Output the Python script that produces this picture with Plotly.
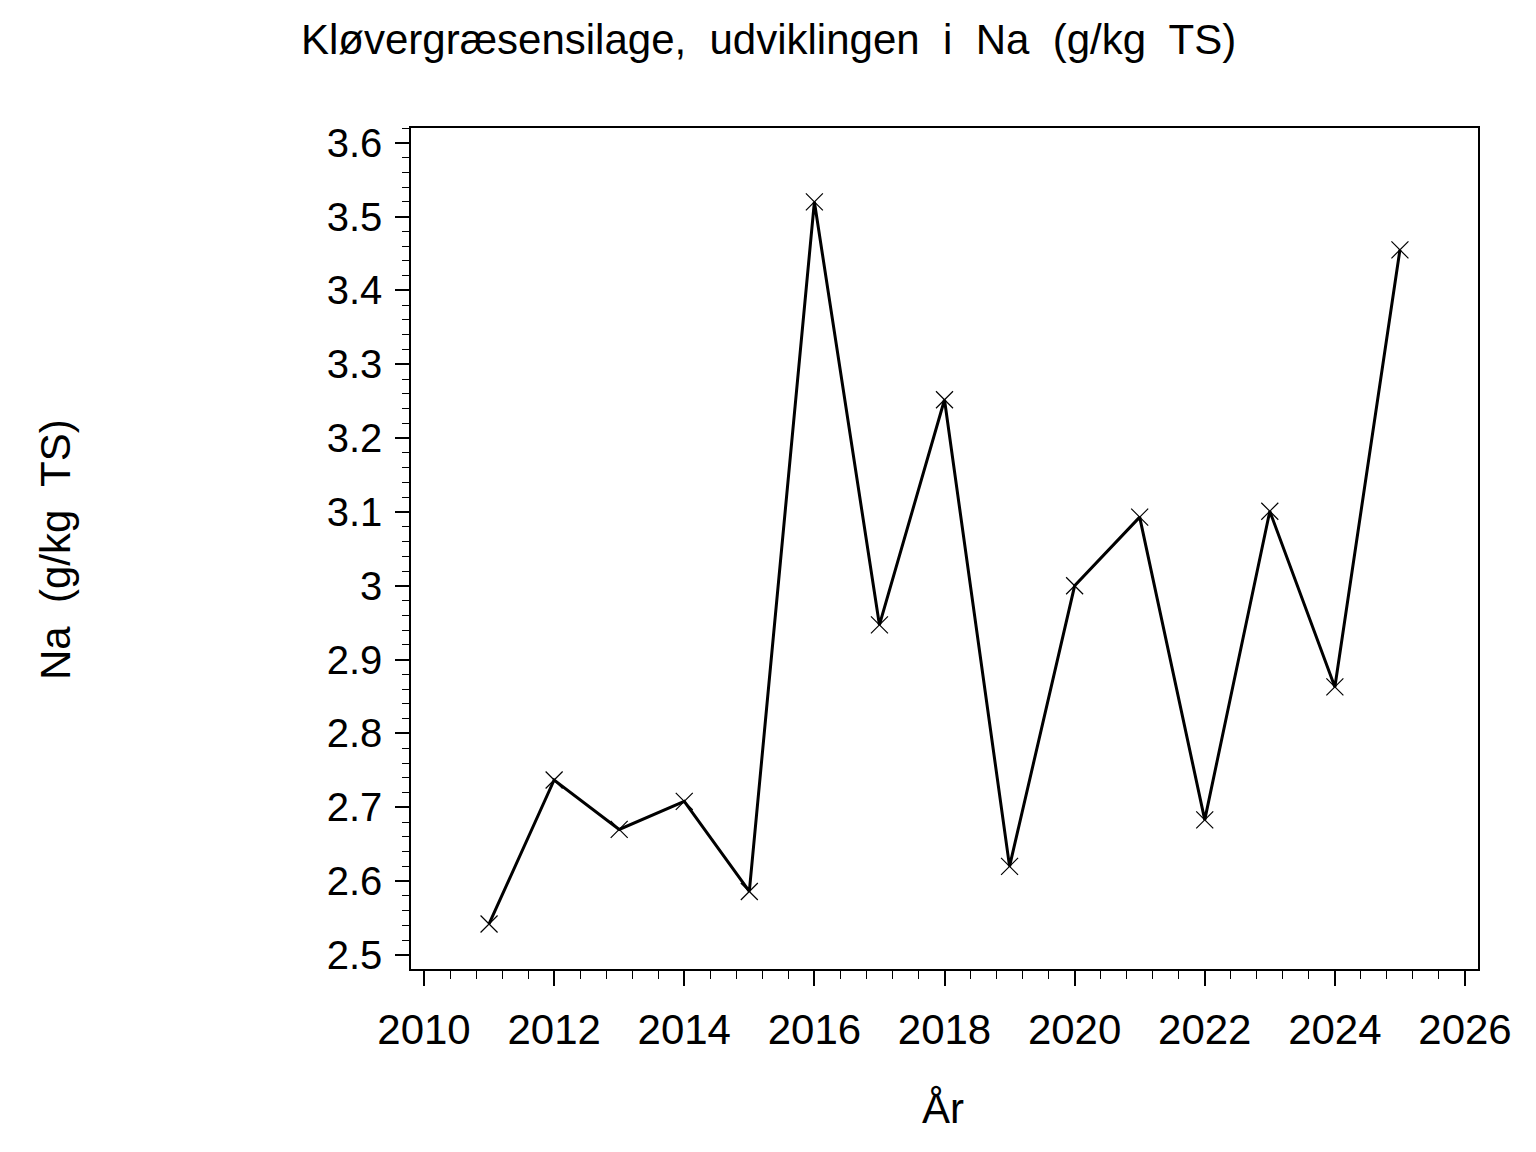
import plotly.graph_objects as go

years = [2011, 2012, 2013, 2014, 2015, 2016, 2017, 2018, 2019, 2020, 2021, 2022, 2023, 2024, 2025]
na_values = [2.542, 2.737, 2.670, 2.708, 2.586, 3.520, 2.947, 3.252, 2.620, 3.000, 3.093, 2.683, 3.101, 2.863, 3.455]

x_ticks = [2010, 2012, 2014, 2016, 2018, 2020, 2022, 2024, 2026]
y_ticks = [2.5, 2.6, 2.7, 2.8, 2.9, 3.0, 3.1, 3.2, 3.3, 3.4, 3.5, 3.6]
y_tick_text = ["2.5", "2.6", "2.7", "2.8", "2.9", "3", "3.1", "3.2", "3.3", "3.4", "3.5", "3.6"]

title_text = "Kløvergræsensilage,\u00a0 udviklingen\u00a0 i\u00a0 Na\u00a0 (g/kg\u00a0 TS)"
x_title = "År"
y_title = "Na\u00a0 (g/kg\u00a0 TS)"

FONT = "Liberation Sans, Arial, sans-serif"

# page body has an 8px margin; figure is placed at (8, 8)
OFF = 8
W, H = 1536 - 2 * OFF, 1152 - 2 * OFF
L, R, T, B = 411 - OFF, W - (1478 - OFF), 128 - OFF, H - (969 - OFF)
pw, ph = W - L - R, H - T - B


def paper_x(px):
    return (px - OFF - L) / pw


def paper_y(py):
    return 1 - (py - OFF - T) / ph


fig = go.Figure()
fig.add_trace(go.Scatter(
    x=years, y=na_values, mode="lines+markers",
    line=dict(color="black", width=3),
    marker=dict(symbol="x-thin", size=17, line=dict(color="black", width=1.2), color="black"),
    showlegend=False,
))

fig.update_layout(
    width=W, height=H,
    paper_bgcolor="white", plot_bgcolor="white",
    margin=dict(l=L, r=R, t=T, b=B),
    font=dict(family=FONT, color="black", size=42),
    annotations=[
        dict(text=title_text, x=paper_x(768), y=paper_y(40), xref="paper", yref="paper",
             xanchor="center", yanchor="middle", showarrow=False,
             font=dict(size=42, family=FONT, color="black")),
        dict(text=x_title, x=paper_x(943), y=paper_y(1108), xref="paper", yref="paper",
             xanchor="center", yanchor="middle", showarrow=False,
             font=dict(size=42, family=FONT, color="black")),
        dict(text=y_title, x=paper_x(55), y=paper_y(550), xref="paper", yref="paper",
             xanchor="center", yanchor="middle", showarrow=False, textangle=-90,
             font=dict(size=42, family=FONT, color="black")),
    ],
)

fig.update_xaxes(
    range=[2009.80, 2026.20], tickvals=x_ticks, ticktext=[str(v) for v in x_ticks],
    ticks="outside", ticklen=15, tickwidth=1.5, tickcolor="black",
    showline=True, linecolor="black", linewidth=1.5, mirror=True,
    showgrid=False, zeroline=False,
    tickfont=dict(size=42, family=FONT, color="black"),
    ticklabelstandoff=8,
    minor=dict(dtick=0.4, tick0=2010, ticks="outside", ticklen=8, tickwidth=1, tickcolor="black", showgrid=False),
)
fig.update_yaxes(
    range=[2.481, 3.620], tickvals=y_ticks, ticktext=y_tick_text,
    ticks="outside", ticklen=14, tickwidth=1.5, tickcolor="black",
    showline=True, linecolor="black", linewidth=1.5, mirror=True,
    showgrid=False, zeroline=False,
    tickfont=dict(size=40, family=FONT, color="black"),
    ticklabelstandoff=5,
    minor=dict(dtick=0.02, tick0=2.5, ticks="outside", ticklen=7, tickwidth=1, tickcolor="black", showgrid=False),
)

fig.write_html("out.html")
